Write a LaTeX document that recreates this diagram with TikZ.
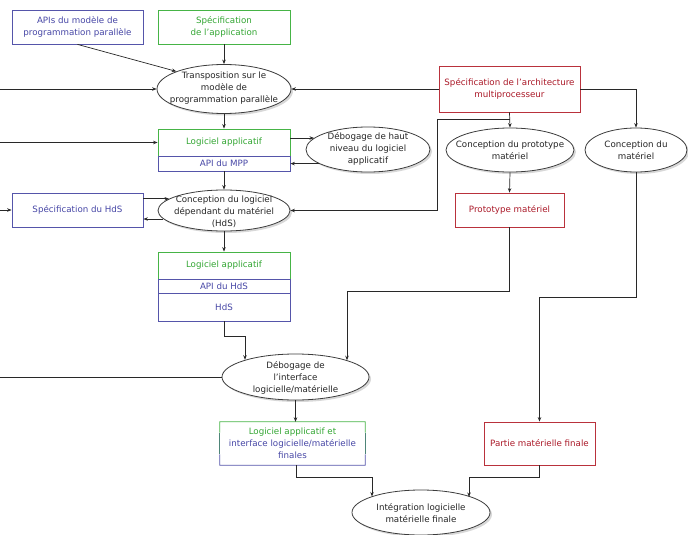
\documentclass[tikz,border=0pt]{standalone}
\usepackage{fontspec}
\setmainfont{DejaVu Sans}
\usetikzlibrary{shapes.geometric,arrows.meta,shadows,calc}
\definecolor{cblue}{RGB}{85,85,170}
\definecolor{cbluet}{RGB}{70,70,165}
\definecolor{cgreen}{RGB}{70,180,70}
\definecolor{cgreent}{RGB}{50,165,50}
\definecolor{cred}{RGB}{185,50,60}
\definecolor{credt}{RGB}{170,25,40}
\definecolor{ellc}{RGB}{60,60,60}
\definecolor{linec}{RGB}{40,40,40}
\begin{document}
\begin{tikzpicture}[x=1pt,y=-1pt,font=\fontsize{8.7}{12}\selectfont,
  box/.style={draw,rectangle,inner sep=0pt,align=center,line width=0.8pt},
  bbox/.style={box,draw=cblue,text=cbluet},
  gbox/.style={box,draw=cgreen,text=cgreent},
  rbox/.style={box,draw=cred,text=credt},
  ell/.style={ellipse,draw=ellc,fill=white,line width=0.8pt,inner sep=0pt,
    drop shadow={shadow xshift=2pt,shadow yshift=-2pt,fill=black!30,draw=none}},
  etxt/.style={align=center,inner sep=0pt,text=black!85},
  ln/.style={line width=0.7pt,draw=linec},
  arr/.style={ln,-{Stealth[length=4.5pt,width=3.5pt]}}]
\useasboundingbox (0,0) rectangle (688,535);

% boxes
\node[bbox,minimum width=131pt,minimum height=34pt] (apis) at (77.5,27) {APIs du modèle de\\programmation parallèle};
\node[gbox,minimum width=132pt,minimum height=34pt] (specapp) at (224,27) {Spécification\\de l'application};
\node[rbox,minimum width=141pt,minimum height=46pt] (arch) at (509.5,89) {Spécification de l'architecture\\multiprocesseur};
\node[gbox,minimum width=132pt,minimum height=27pt] (log1) at (224,142.5) {Logiciel applicatif};
\node[bbox,minimum width=132pt,minimum height=15pt] (api1) at (224,163.5) {API du MPP};
\node[bbox,minimum width=131pt,minimum height=34pt] (hdsspec) at (77.5,210) {Spécification du HdS};
\node[rbox,minimum width=109pt,minimum height=34pt] (proto) at (509.5,210) {Prototype matériel};
\node[gbox,minimum width=132pt,minimum height=27pt] (log2) at (224,265.5) {Logiciel applicatif};
\node[bbox,minimum width=132pt,minimum height=14pt] (apihds) at (224,286) {API du HdS};
\node[bbox,minimum width=132pt,minimum height=28pt] (hds) at (224,307) {HdS};
\node[rbox,minimum width=111pt,minimum height=43pt] (partie) at (539.5,443.5) {Partie matérielle finale};
\node[inner sep=0pt,minimum width=145pt,minimum height=43pt,align=center] (fsw) at (292.5,443.5)
  {\textcolor{cgreent}{Logiciel applicatif et}\\\textcolor{cbluet}{interface logicielle/matérielle}\\\textcolor{cbluet}{finales}};
\draw[line width=0.8pt,cgreen] ($(fsw.west)!0.5!(fsw.north west)$) -- (fsw.north west) -- (fsw.north east) -- ($(fsw.east)!0.5!(fsw.north east)$);
\draw[line width=0.8pt,cgreen!50!cblue] ($(fsw.west)!0.5!(fsw.north west)$) -- ($(fsw.west)!0.5!(fsw.south west)$);
\draw[line width=0.8pt,cgreen!50!cblue] ($(fsw.east)!0.5!(fsw.north east)$) -- ($(fsw.east)!0.5!(fsw.south east)$);
\draw[line width=0.8pt,cblue] ($(fsw.west)!0.5!(fsw.south west)$) -- (fsw.south west) -- (fsw.south east) -- ($(fsw.east)!0.5!(fsw.south east)$);

% ellipses
\node[ell,minimum width=134pt,minimum height=49pt] (trans) at (224,89) {};
\node[etxt] (transt) at (224,88) {Transposition sur le\\modèle de\\programmation parallèle};
\node[ell,minimum width=124pt,minimum height=45pt] (deb1) at (368,149.5) {};
\node[etxt] (deb1t) at (368,149) {Débogage de haut\\niveau du logiciel\\applicatif};
\node[ell,minimum width=128pt,minimum height=44pt] (cproto) at (510,150) {};
\node[etxt] (cprotot) at (510,150) {Conception du prototype\\matériel};
\node[ell,minimum width=102pt,minimum height=44pt] (cmat) at (636,150) {};
\node[etxt] (cmatt) at (636,150) {Conception du\\matériel};
\node[ell,minimum width=132pt,minimum height=41pt] (clog) at (224,210.5) {};
\node[etxt] (clogt) at (224,212) {Conception du logiciel\\dépendant du matériel\\(HdS)};
\node[ell,minimum width=147pt,minimum height=46pt] (debif) at (295.5,377) {};
\node[etxt] (debift) at (295.5,378) {Débogage de\\l'interface\\logicielle/matérielle};
\node[ell,minimum width=138pt,minimum height=45pt] (integ) at (421,512.5) {};
\node[etxt] (integt) at (421,513) {Intégration logicielle\\matérielle finale};

% free ends and corners
\coordinate (L1) at (0,89);
\coordinate (L2) at (0,142.5);
\coordinate (L3) at (0,210);
\coordinate (L4) at (0,377);
\coordinate (j1) at (437,119);
\coordinate (j2) at (245,336);
\coordinate (j3) at (347,291);
\coordinate (j4) at (539.5,297);
\coordinate (j5) at (372,477);
\coordinate (j6) at (469,477);
\coordinate (fs) at (296,465);

% connectors
\draw[arr] (apis.south) -- (trans.north west);
\draw[arr] (specapp.south) -- (trans.north);
\draw[arr] (L1) -- (trans.west);
\draw[arr] (arch.west) -- (trans.east);
\draw[arr] (trans.south) -- (log1.north);
\draw[arr] (L2) -- (log1.west);
\draw[arr] (log1.east |- deb1.168) -- (deb1.168);
\draw[arr] (deb1.196) -- (deb1.196 -| api1.east);
\draw[arr] (arch.south) -- (cproto.north);
\draw[arr] (arch.south |- j1) -- (j1) |- (clog.east);
\draw[arr] (arch.east) -| (cmat.north);
\draw[arr] (cproto.south) -- (proto.north);
\draw[arr] (api1.south) -- (clog.north);
\draw[arr] (hdsspec.east |- clog.168) -- (clog.168);
\draw[arr] (clog.188) -- (clog.188 -| hdsspec.east);
\draw[arr] (L3) -- (hdsspec.west);
\draw[arr] (clog.south) -- (log2.north);
\draw[arr] (hds.south) |- (j2) -- (j2 |- debif.161.7);
\draw[arr] (proto.south) |- (j3) -- (j3 |- debif.18.3);
\draw[arr] (cmat.south) |- (j4) -- (partie.north);
\draw[ln] (L4) -- (debif.west);
\draw[arr] (debif.south) -- (debif.south |- fsw.north);
\draw[arr] (fs) |- (j5) -- (j5 |- integ.162.1);
\draw[arr] (partie.south) |- (j6) -- (j6 |- integ.17.9);
\end{tikzpicture}
\end{document}
